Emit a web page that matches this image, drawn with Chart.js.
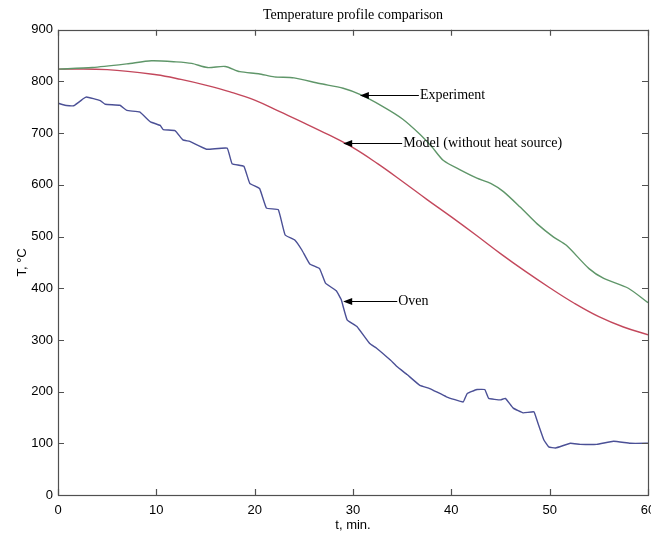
<!DOCTYPE html>
<html>
<head>
<meta charset="utf-8">
<script src="https://cdn.jsdelivr.net/npm/chart.js@4.4.1/dist/chart.umd.min.js"></script>
<style>
  html, body { margin: 0; padding: 0; background: #fff; }
  #wrap { width: 651px; height: 535px; }
</style>
</head>
<body>
<div id="wrap"><canvas id="myChart" width="651" height="535"></canvas></div>
<script>
// values: t in minutes, T in deg C
const expTime = [0, 3.5, 7, 9.5, 12, 13.6, 15.2, 17, 18.5, 20.4, 22, 24, 26.6, 29, 30.7, 33, 35, 36.8, 38, 39.2, 41, 42.6, 44, 45.3, 47, 48.7, 50.4, 51.7, 54, 55.5, 58, 60];
const expTemp = [824, 827, 834, 840, 838, 835, 827, 829, 819, 815, 809, 807, 796, 787, 775, 752, 728, 698, 674, 647, 628, 613, 603, 587, 557, 525, 499, 483, 438, 419, 400, 372];

const modelTime = [0, 5, 10, 12.5, 15, 17.5, 20, 22.5, 25, 27.5, 30, 32.5, 35, 37.5, 40, 42.5, 45, 47.5, 50, 52.5, 55, 57.5, 60];
const modelTemp = [824, 823, 813, 804, 793, 780, 764, 742, 720, 697, 672, 641, 607, 572, 538, 503, 467, 433, 401, 371, 345, 325, 310];

const ovenTime = [0, 0.7, 1.6, 2.6, 2.9, 4.3, 4.8, 6.3, 7, 8.3, 9.4, 10.4, 10.7, 11.9, 12.7, 13.4, 15.1, 17.2, 17.7, 18.9, 19.5, 20.5, 21.2, 22.4, 23.1, 24.1, 24.8, 25.6, 26.6, 27.2, 28.3, 28.8, 29.4, 30.4, 31.7, 32.4, 33.8, 34.5, 35.5, 36.8, 37.8, 39.5, 41.2, 41.6, 42.6, 43.4, 43.8, 45, 45.5, 46.3, 47.3, 48.4, 48.7, 49.4, 49.9, 50.6, 52.1, 53.1, 54.8, 56.5, 58.2, 60];
const ovenTemp = [758, 754, 753, 767, 770, 763, 756, 754, 744, 741, 722, 715, 707, 705, 687, 684, 669, 671, 641, 636, 603, 593, 555, 552, 503, 493, 474, 447, 438, 410, 395, 378, 339, 326, 293, 284, 261, 248, 233, 212, 206, 190, 180, 196, 204, 204, 187, 184, 187, 168, 159, 161, 145, 107, 93, 91, 100, 98, 98, 104, 100, 100];

const xTicks = [0, 10, 20, 30, 40, 50, 60];
const yTicks = [0, 100, 200, 300, 400, 500, 600, 700, 800, 900];

// callouts (data coords): arrow tip on the curve, then where the arrow line ends
const noteLabels = ['Experiment', 'Model (without heat source)', 'Oven'];
const noteTips = [[30.7, 774], [29.0, 681], [29.0, 376]];
const noteEnds = [36.7, 35.0, 34.5];

function toPoints(ts, vs) {
    return ts.map((t, i) => ({x: t, y: vs[i]}));
}

// matlab style box with inward ticks on all four sides
const boxTicks = {
    id: 'boxTicks',
    afterDatasetsDraw(chart) {
        const {ctx, chartArea: a, scales: {x, y}} = chart;
        ctx.save();
        ctx.strokeStyle = '#505050';
        ctx.lineWidth = 1.2;
        ctx.strokeRect(Math.round(a.left) + 0.5, Math.round(a.top) + 0.5, Math.round(a.right - a.left), Math.round(a.bottom - a.top));
        ctx.beginPath();
        xTicks.forEach(v => {
            const px = Math.round(x.getPixelForValue(v)) + 0.5;
            ctx.moveTo(px, a.bottom); ctx.lineTo(px, a.bottom - 6);
            ctx.moveTo(px, a.top); ctx.lineTo(px, a.top + 6);
        });
        yTicks.forEach(v => {
            const py = Math.round(y.getPixelForValue(v)) + 0.5;
            ctx.moveTo(a.left, py); ctx.lineTo(a.left + 6, py);
            ctx.moveTo(a.right, py); ctx.lineTo(a.right - 6, py);
        });
        ctx.stroke();
        ctx.restore();
    }
};

const callouts = {
    id: 'callouts',
    afterDatasetsDraw(chart) {
        const {ctx, scales: {x, y}} = chart;
        ctx.save();
        ctx.strokeStyle = '#000';
        ctx.fillStyle = '#000';
        ctx.lineWidth = 1;
        ctx.font = '14px "Liberation Serif", "Times New Roman", serif';
        ctx.textBaseline = 'middle';
        for (let i = 0; i < noteLabels.length; i++) {
            const tx = x.getPixelForValue(noteTips[i][0]);
            const ty = Math.round(y.getPixelForValue(noteTips[i][1])) + 0.5;
            const ex = x.getPixelForValue(noteEnds[i]);
            ctx.beginPath();
            ctx.moveTo(tx + 6, ty);
            ctx.lineTo(ex, ty);
            ctx.stroke();
            ctx.beginPath();
            ctx.moveTo(tx, ty);
            ctx.lineTo(tx + 9, ty - 3.5);
            ctx.lineTo(tx + 9, ty + 3.5);
            ctx.closePath();
            ctx.fill();
            ctx.fillText(noteLabels[i], ex + 1, ty);
        }
        ctx.restore();
    }
};

const tickFont = {family: '"Liberation Sans", Arial, sans-serif', size: 13};

const ctx = document.getElementById('myChart').getContext('2d');
const chart = new Chart(ctx, {
    type: 'line',
    data: {
        datasets: [
            {label: 'Experiment', data: toPoints(expTime, expTemp), borderColor: 'rgb(95,150,105)', borderWidth: 1.4, pointRadius: 0, tension: 0.25},
            {label: 'Model', data: toPoints(modelTime, modelTemp), borderColor: 'rgb(195,72,92)', borderWidth: 1.4, pointRadius: 0, tension: 0.4},
            {label: 'Oven', data: toPoints(ovenTime, ovenTemp), borderColor: 'rgb(75,80,150)', borderWidth: 1.4, pointRadius: 0, tension: 0.1}
        ]
    },
    options: {
        responsive: false,
        animation: false,
        layout: {padding: {left: 0, right: 3, top: 0, bottom: 0}},
        plugins: {
            legend: {display: false},
            tooltip: {enabled: false},
            title: {
                display: true,
                fullSize: false,
                text: 'Temperature profile comparison',
                color: '#000',
                font: {family: '"Liberation Serif", "Times New Roman", serif', size: 14, weight: 'normal'},
                padding: {top: 7, bottom: 6}
            }
        },
        scales: {
            x: {
                type: 'linear',
                min: 0,
                max: 60,
                afterBuildTicks: s => { s.ticks = xTicks.map(v => ({value: v})); },
                afterFit: s => { s.height = 40; s.paddingLeft = 0; s.paddingRight = 0; },
                grid: {display: false, drawTicks: false},
                border: {display: false},
                ticks: {font: tickFont, color: '#000', padding: 8, maxRotation: 0, autoSkip: false},
                title: {display: true, text: 't, min.', color: '#000', font: tickFont, padding: {top: 0, bottom: 2}}
            },
            y: {
                type: 'linear',
                min: 0,
                max: 900,
                afterBuildTicks: s => { s.ticks = yTicks.map(v => ({value: v})); },
                afterFit: s => { s.width = 58; s.paddingTop = 0; s.paddingBottom = 0; },
                grid: {display: false, drawTicks: false},
                border: {display: false},
                ticks: {font: tickFont, color: '#000', padding: 5},
                title: {display: true, text: 'T, °C', color: '#000', font: tickFont, padding: {top: 15, bottom: 0}}
            }
        }
    },
    plugins: [boxTicks, callouts]
});
</script>
</body>
</html>
